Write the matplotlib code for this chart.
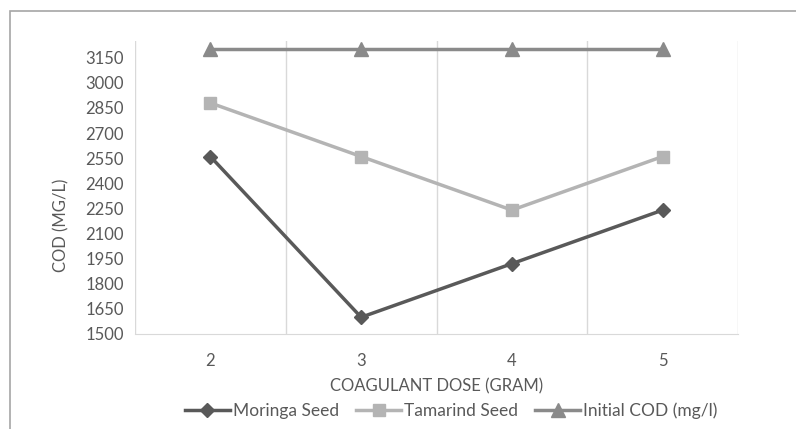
import matplotlib
matplotlib.use("Agg")
import matplotlib.pyplot as plt
from matplotlib.patches import Rectangle

plt.rcParams["font.family"] = ["Lato", "DejaVu Sans"]

doses = [2, 3, 4, 5]
moringa = [2560, 1600, 1920, 2240]
tamarind = [2880, 2560, 2240, 2560]
initial_cod = [3200, 3200, 3200, 3200]
y_ticks = list(range(1500, 3151, 150))

text_color = "#595959"
grid_color = "#d9d9d9"

fig = plt.figure(figsize=(7.96, 4.29), dpi=100)
ax = fig.add_axes([135 / 796, 1 - 334 / 429, (738 - 135) / 796, (334 - 41) / 429])

ax.plot(doses, moringa, color="#595959", lw=2.5, marker="D", ms=7, label="Moringa Seed")
ax.plot(doses, tamarind, color="#b4b4b4", lw=2.5, marker="s", ms=9, label="Tamarind Seed")
ax.plot(doses, initial_cod, color="#8a8a8a", lw=2.5, marker="^", ms=10, label="Initial COD (mg/l)")

ax.set_xlim(doses[0] - 0.5, doses[-1] + 0.5)
ax.set_ylim(1500, 3250)
ax.set_xticks(doses)
ax.set_xticks([d - 0.5 for d in doses] + [doses[-1] + 0.5], minor=True)
ax.set_yticks(y_ticks)
ax.grid(axis="x", which="minor", color=grid_color, lw=1)
ax.tick_params(which="both", length=0, colors=text_color, labelsize=12)
ax.tick_params(axis="x", pad=14)
ax.tick_params(axis="y", pad=8)

for side in ["left", "top", "right"]:
    ax.spines[side].set_visible(False)
ax.spines["bottom"].set_color(grid_color)

ax.set_xlabel("COAGULANT DOSE (GRAM)", color=text_color, fontsize=12)
ax.xaxis.set_label_coords(0.5, -0.152)
ax.set_ylabel("COD (MG/L)", color=text_color, fontsize=12)
ax.yaxis.set_label_coords(-0.108, 0.372)

fig.legend(loc="center", bbox_to_anchor=(451 / 796, 1 - 411 / 429), ncol=3, frameon=False,
           fontsize=12.5, labelcolor=text_color, handlelength=2.6, columnspacing=1.0,
           handletextpad=0.15)

fig.patches.append(Rectangle((10 / 796, -0.1), 1.2, 1 - 11 / 429 + 0.1, transform=fig.transFigure,
                             fill=False, edgecolor="#a6a6a6", lw=1.2))

fig.savefig("out.png", dpi=100)
